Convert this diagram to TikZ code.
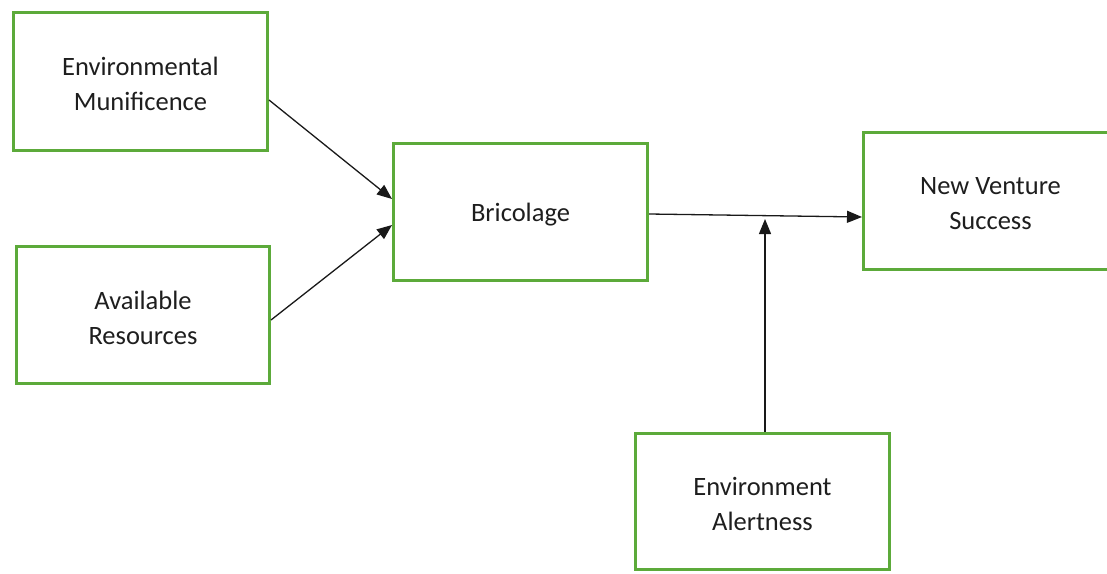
\documentclass[tikz,border=0pt]{standalone}
\usepackage{fontspec}
\setmainfont{Carlito}
\usetikzlibrary{arrows.meta}
\definecolor{boxgreen}{RGB}{92,170,58}
\definecolor{txt}{RGB}{30,30,30}
\begin{document}
\begin{tikzpicture}[x=1pt,y=-1pt,
  box/.style={draw=boxgreen,line width=3pt,fill=white,inner sep=0pt,
    minimum width=254pt,minimum height=137pt},
  boxtext/.style={text=txt,align=center,yshift=-2.5pt,
    font=\fontsize{26.5}{35}\selectfont},
  arr/.style={draw=black!90,line width=1.3pt,-{Triangle[length=15pt,width=12pt]}}]
\useasboundingbox (0,0) rectangle (1107,573);
\begin{scope}
\clip (0,0) rectangle (1107,573);
\node[box,minimum height=138pt,label={[boxtext]center:{Environmental\\Munificence}}] (em) at (140.5,81.5) {};
\node[box,minimum width=253pt,label={[boxtext]center:{Available\\Resources}}] (ar) at (143,315) {};
\node[box,label={[boxtext]center:{Bricolage}}] (bri) at (520.5,212) {};
\node[box,label={[boxtext]center:{New Venture\\Success}}] (ven) at (990.5,201) {};
\node[box,minimum height=136pt,label={[boxtext]center:{Environment\\Alertness}}] (al) at (762.5,501.5) {};
\coordinate (m) at (765,219);
\draw[arr] ([yshift=-18.5pt]em.east) -- ([yshift=13pt]bri.west);
\draw[arr] ([yshift=-5pt]ar.east) -- ([yshift=-13pt]bri.west);
\draw[arr] ([yshift=-2pt]bri.east) -- ([yshift=-16pt]ven.west);
\draw[arr] (al.north -| m) -- (m);
\end{scope}
\end{tikzpicture}
\end{document}
